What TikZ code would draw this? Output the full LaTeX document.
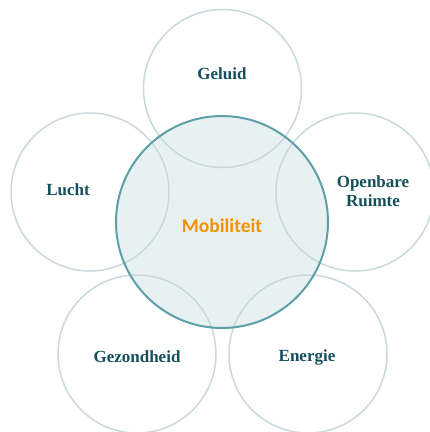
\documentclass[tikz,border=0pt]{standalone}
\usepackage{fontspec}
\setmainfont{Liberation Serif}
\newfontfamily\calib{Carlito}
\definecolor{ringc}{HTML}{C9D9DB}
\definecolor{centc}{HTML}{5E9FA8}
\definecolor{centfill}{HTML}{E8F1F2}
\definecolor{labc}{HTML}{164F5C}
\definecolor{orangec}{HTML}{F39200}
\begin{document}
\begin{tikzpicture}[x=1pt,y=-1pt,
  ring/.style={circle,draw=ringc,line width=1.5pt,minimum size=158pt,inner sep=0pt},
  lab/.style={font=\fontsize{17}{19}\selectfont\bfseries,text=labc,align=center}]
\useasboundingbox (0,0) rectangle (430,432);
\fill[centfill] (222,222) circle (106);
\node[ring] (geluid) at (222.5,88.5) {};
\node[ring] (lucht) at (90,192) {};
\node[ring] (openbare) at (355,192) {};
\node[ring] (gezond) at (137,354) {};
\node[ring] (energie) at (308,354) {};
\node[circle,draw=centc,line width=2pt,minimum size=212pt,inner sep=0pt] (mob) at (222,222) {};
\node[lab] (tgeluid) at (222,74) {Geluid};
\node[lab] (tlucht) at (68,190) {Lucht};
\node[lab] (topen) at (373,191) {Openbare\\Ruimte};
\node[lab] (tgez) at (137,357) {Gezondheid};
\node[lab] (tener) at (307,357) {Energie};
\node[font=\calib\fontsize{19.5}{22}\selectfont\bfseries,text=orangec] (tmob) at (222,226) {Mobiliteit};
\end{tikzpicture}
\end{document}
